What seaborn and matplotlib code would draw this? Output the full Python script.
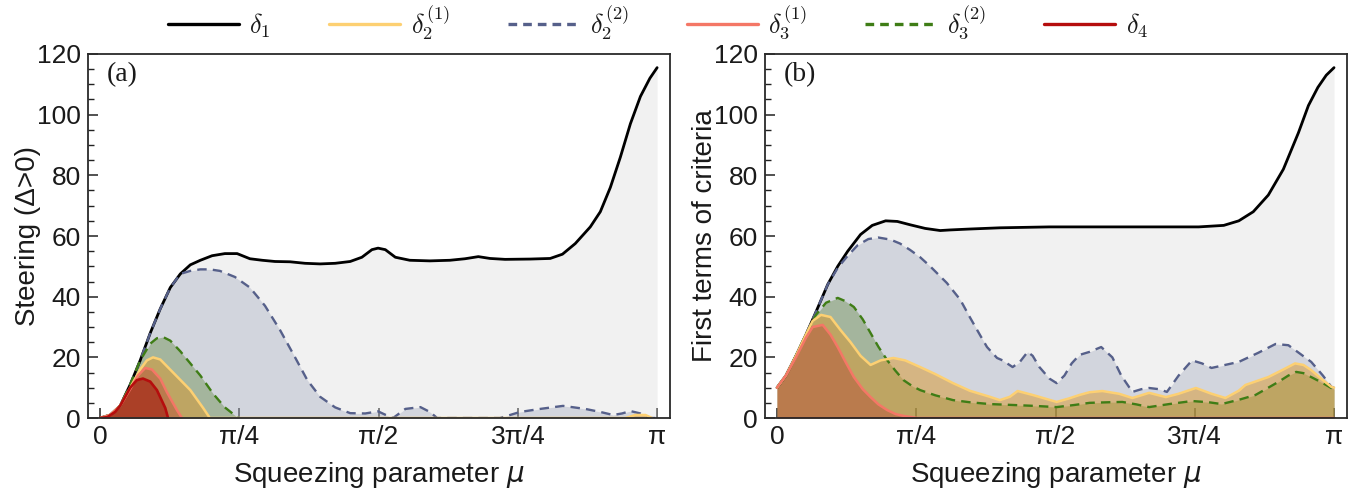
import numpy as np
import pandas as pd
import matplotlib
matplotlib.use("Agg")
import matplotlib.pyplot as plt
import seaborn as sns
from matplotlib.ticker import MultipleLocator, FixedLocator, FixedFormatter
from matplotlib.font_manager import FontProperties
from matplotlib.lines import Line2D

# ---------------- data (mu in units of pi) ----------------
# Panel (a)
a_d1_x = [0, .018, .036, .054, .072, .090, .108, .126, .144, .162, .180, .201, .224, .246, .269, .291, .314, .341,
          .368, .395, .422, .449, .470, .488, .499, .512, .530, .556, .592, .628, .655, .679, .700, .727, .772, .808,
          .830, .853, .880, .898, .916, .934, .952, .970, .987, 1.0]
a_d1_y = [0, 1, 4, 11, 19, 28, 36, 43, 47.5, 50.5, 52, 53.5, 54.2, 54.2, 52.5, 52, 51.6, 51.5, 51, 50.8, 51, 51.6, 53,
          55.5, 56, 55.5, 53, 52, 51.8, 52, 52.5, 53.2, 52.6, 52.3, 52.4, 52.6, 54, 57.5, 63, 68, 76, 86, 97, 106,
          112, 115.5]

a_d22_x = [0, .018, .036, .054, .072, .090, .108, .126, .144, .162, .180, .197, .215, .242, .269, .296, .323, .350,
           .372, .395, .422, .449, .476, .499, .513, .526, .548, .575, .592, .605, .718, .736, .754, .790, .831, .871,
           .898, .921, .937, .952, .970, .987, 1.0]
a_d22_y = [0, 1, 4, 11, 19, 28, 36, 43, 47.5, 48.5, 49, 49, 48.5, 46.5, 43, 37, 29, 20, 12.5, 7, 3.5, 1.6, 1.5, 2.2,
           1, 0, 3, 3.6, 2, 0, 0, 1, 2, 3, 4, 3, 2, 1, 1.5, 2.3, 1.5, 0, 0]

a_d32_x = [0, .018, .036, .054, .072, .090, .102, .113, .126, .144, .162, .180, .203, .224, .248]
a_d32_y = [0, 1, 4, 11, 19, 24.5, 26.3, 26.7, 25.5, 22, 18, 14, 8, 3.5, 0]

a_d21_x = [0, .018, .036, .054, .072, .084, .095, .108, .131, .162, .185, .197, .943, .961, .979, .991]
a_d21_y = [0, 1, 4, 10, 16, 19, 20, 19.3, 15, 9.2, 3.3, 0, 0, 1, 1, 0]

a_d31_x = [0, .018, .036, .054, .068, .081, .093, .108, .120, .138, .147]
a_d31_y = [0, 1, 4, 9.5, 14, 16.5, 16, 13, 8.5, 2.6, 0]

a_d4_x = [0, .013, .027, .036, .054, .066, .077, .090, .102, .117, .122]
a_d4_y = [0, 0.3, 2, 4, 10, 12.5, 13, 12, 9.2, 3.3, 0]

# Panel (b)
b_d1_x = [0, .016, .034, .052, .070, .091, .109, .127, .150, .171, .195, .216, .239, .266, .293, .311, .346, .400,
          .489, .579, .668, .757, .802, .829, .855, .882, .909, .936, .954, .971, .986, 1.0]
b_d1_y = [10, 14, 20.5, 27.5, 35, 44, 50, 55, 60.5, 63.5, 65, 64.8, 63.7, 62.5, 61.8, 62, 62.3, 62.7, 63, 63, 63, 63,
          63.5, 65, 68, 73.5, 82, 94, 103, 109, 113, 115.5]

b_d22_x = [0, .016, .034, .052, .070, .091, .109, .127, .145, .164, .182, .204, .221, .239, .257, .275, .305, .329,
           .346, .364, .377, .395, .405, .423, .436, .450, .459, .471, .489, .502, .516, .529, .543, .561, .582, .602,
           .618, .638, .654, .668, .686, .700, .721, .745, .763, .780, .829, .864, .895, .918, .930, .959, .980, .995,
           1.0]
b_d22_y = [10, 14, 20.5, 27.5, 35, 44, 49.5, 53.5, 57, 59, 59.5, 58.8, 57.5, 55.4, 53, 50, 44.5, 39, 33.3, 27.5, 23.4,
           19.8, 19, 16.8, 18.5, 21.8, 20.5, 16.8, 13, 11.5, 14, 18, 20.8, 21.8, 23.4, 20, 14, 8.6, 9.5, 9.9, 9.5, 8.6,
           14, 19, 18, 16.5, 18.5, 21.5, 24.4, 24, 22.4, 18.5, 14, 10.3, 10]

b_d21_x = [0, .016, .034, .052, .064, .079, .096, .114, .132, .150, .168, .186, .209, .230, .257, .284, .316, .346,
           .382, .400, .418, .432, .459, .502, .525, .543, .561, .584, .614, .638, .668, .698, .721, .752, .780, .805,
           .829, .841, .882, .909, .930, .945, .959, .980, .995, 1.0]
b_d21_y = [10, 14, 20.5, 27.5, 32, 34, 33.3, 29, 25, 20.5, 17.5, 19, 19.8, 19, 16.8, 14.5, 11.5, 9, 7, 5.9, 7, 8.9,
           7.6, 5.3, 6.5, 7.6, 8.5, 8.9, 8, 6.6, 8.3, 6.9, 8, 9.9, 8, 6.6, 9, 10.9, 13.5, 16, 18, 17.5, 15.8, 12.5,
           10.3, 10]

b_d32_x = [0, .016, .034, .052, .070, .088, .109, .123, .138, .154, .168, .182, .198, .213, .227, .243, .257, .284,
           .316, .346, .382, .423, .462, .502, .534, .561, .596, .620, .645, .668, .704, .745, .775, .798, .829, .859,
           .882, .900, .918, .932, .945, .959, .980, .995, 1.0]
b_d32_y = [10, 14, 20.5, 27.5, 34, 38, 39.6, 38.5, 36.6, 32.5, 28, 23.5, 19, 15.5, 12.5, 10.5, 9.2, 7.5, 5.9, 5.2,
           4.6, 4.3, 4, 3.6, 4.3, 5, 5.2, 5.3, 4.5, 3.6, 4.6, 5.6, 5.2, 4.6, 6, 7.6, 10, 11.9, 14, 15.2, 14.8, 13.5,
           11.5, 9.9, 9.5]

b_d31_x = [0, .016, .034, .052, .064, .082, .096, .109, .123, .138, .154, .168, .182, .198, .213, .227, .252, 1.0]
b_d31_y = [10, 14, 20, 26.5, 30, 30.7, 27.5, 23.4, 18.5, 13.5, 9.5, 6.9, 4.5, 2.6, 1.3, 0.7, 0, 0]

b_d4_x = [0, 1.0]
b_d4_y = [0, 0]

labels = [r"$\delta_1$", r"$\delta_2^{(1)}$", r"$\delta_2^{(2)}$", r"$\delta_3^{(1)}$", r"$\delta_3^{(2)}$", r"$\delta_4$"]
xtick_vals = [0, 0.25, 0.5, 0.75, 1.0]
xtick_labels = ["0", "π/4", "π/2", "3π/4", "π"]

# ---------------- style ----------------
sns.set_theme(style="white")
plt.rcParams["font.family"] = ["Liberation Sans", "DejaVu Sans"]
plt.rcParams["text.color"] = "#1a1a1a"
plt.rcParams["axes.labelcolor"] = "#1a1a1a"
plt.rcParams["xtick.color"] = "#1a1a1a"
plt.rcParams["ytick.color"] = "#1a1a1a"

line_col = ["#000000", "#fdd072", "#56608a", "#f47766", "#3f7d16", "#b50d0d"]
fill_col = ["#d9d9d9", "#d8962a", "#5a6590", "#b85a3c", "#3c6e0a", "#a01008"]
fill_alpha = [0.35, 0.5, 0.2, 0.55, 0.3, 0.55]
dashed = [False, False, True, False, True, False]
lws = [2.0, 1.8, 1.7, 1.8, 1.7, 1.9]

fig = plt.figure(figsize=(13.65, 4.98), dpi=100)
ax_a = fig.add_axes([0.0645, 0.1606, 0.4264, 0.731])
ax_b = fig.add_axes([0.5604, 0.1606, 0.4264, 0.731])

panels = {
    "a": (ax_a, [(a_d1_x, a_d1_y), (a_d21_x, a_d21_y), (a_d22_x, a_d22_y), (a_d31_x, a_d31_y),
                 (a_d32_x, a_d32_y), (a_d4_x, a_d4_y)]),
    "b": (ax_b, [(b_d1_x, b_d1_y), (b_d21_x, b_d21_y), (b_d22_x, b_d22_y), (b_d31_x, b_d31_y),
                 (b_d32_x, b_d32_y), (b_d4_x, b_d4_y)]),
}

fill_order = [0, 2, 4, 1, 3, 5]
for key, (ax, series) in panels.items():
    for i in fill_order:
        xs, ys = series[i]
        mu = np.array(xs) * np.pi
        ax.fill_between(mu, 0, ys, color=fill_col[i], alpha=fill_alpha[i], lw=0, zorder=1)
    for i in [0, 2, 4, 1, 3, 5]:
        xs, ys = series[i]
        df = pd.DataFrame({"mu": np.array(xs) * np.pi, "v": ys})
        sns.lineplot(data=df, x="mu", y="v", ax=ax, color=line_col[i], lw=lws[i],
                     estimator=None, sort=False, legend=False, zorder=2)
        if dashed[i]:
            ax.lines[-1].set_dashes((4.0, 2.6))
    ax.set_xlim(-0.068, np.pi + 0.073)
    ax.set_ylim(0, 120)
    ax.xaxis.set_major_locator(FixedLocator([v * np.pi for v in xtick_vals]))
    ax.xaxis.set_major_formatter(FixedFormatter(xtick_labels))
    ax.yaxis.set_major_locator(MultipleLocator(20))
    ax.yaxis.set_minor_locator(MultipleLocator(5))
    ax.tick_params(axis="both", which="major", direction="in", length=7, width=1.1, labelsize=19,
                   bottom=True, left=True, top=False, right=False, color="#222222", pad=5)
    ax.tick_params(axis="y", which="minor", direction="in", length=4, width=1.0, left=True, color="#222222")
    for s in ax.spines.values():
        s.set_color("#2a2a2a")
        s.set_linewidth(1.3)
        s.set_zorder(3)
    ax.set_xlabel("Squeezing parameter $\\mu$", fontsize=20, labelpad=8, math_fontfamily="dejavusans")
    ax.text(0.033, 0.942, f"({key})", transform=ax.transAxes, fontsize=20, va="center", ha="left",
            family="Liberation Serif")

ax_a.set_ylabel("Steering (Δ>0)", fontsize=20, labelpad=-3)
ax_b.set_ylabel("First terms of criteria", fontsize=20, labelpad=-3)

handles = []
for i in range(6):
    h = Line2D([], [], color=line_col[i], lw=2.4)
    if dashed[i]:
        h.set_dashes((2.6, 1.8))
    handles.append(h)
fig.legend(handles, labels, loc="center", bbox_to_anchor=(0.482, 0.955), ncol=6, frameon=False,
           prop=FontProperties(size=19, math_fontfamily="cm"), handlelength=2.7, handletextpad=0.4,
           columnspacing=2.2)

fig.savefig("out.png", dpi=100)
